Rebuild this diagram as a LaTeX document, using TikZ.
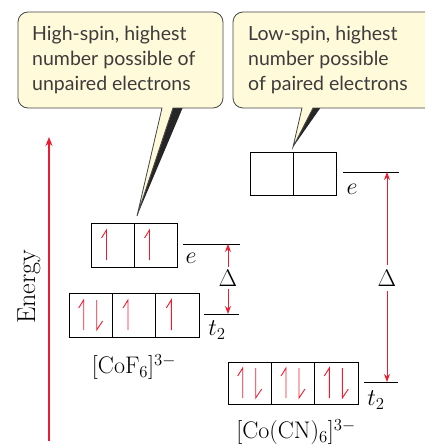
\RequirePackage{fix-cm}
\documentclass[tikz,border=0pt]{standalone}
\usepackage{fontspec}
\usetikzlibrary{arrows.meta}
\newfontfamily\callfont{Lato}
\definecolor{ered}{RGB}{237,28,48}
\definecolor{callfill}{RGB}{255,250,218}
\definecolor{callline}{RGB}{70,70,70}
\definecolor{calltext}{RGB}{60,60,60}
\newcommand{\eup}[2]{\draw[elec] ([shift={(#2,15)}]#1.center) -- ([shift={(#2,-15)}]#1.center) -- ([shift={(#2-5,-7)}]#1.center);}
\newcommand{\edown}[2]{\draw[elec] ([shift={(#2,-15)}]#1.center) -- ([shift={(#2,15)}]#1.center) -- ([shift={(#2+6,6)}]#1.center);}
\begin{document}
\begin{tikzpicture}[x=1pt,y=-1pt,
  orb/.style={draw, line width=0.9pt, minimum width=43.3pt, minimum height=43pt, inner sep=0pt, outer sep=0pt},
  elec/.style={ered, line width=0.9pt},
  level/.style={line width=0.9pt},
  gap/.style={ered, line width=0.9pt, -{Stealth[length=8pt,width=6pt]}},
  calltxt/.style={font=\callfont\fontsize{19.5}{24}\selectfont, text=calltext, anchor=base west, inner sep=0pt},
  serif/.style={font=\fontsize{24}{28}\selectfont, inner sep=0pt},
  callout/.style={fill=callfill, draw=callline, line width=0.8pt}
]
\useasboundingbox (0,0) rectangle (425,446);
\clip (0,0) rectangle (425,446);

% callouts
\fill[black!85] (137,216) -- (171,107) -- (183,107) -- cycle;
\draw[callout] (162,108) [rounded corners=10pt] -- (18,108) -- (18,12) -- (223,12) -- (223,108) [sharp corners] -- (173,108) -- (137,216) -- cycle;
\node[calltxt] (h1) at (32,41) {High-spin, highest};
\node[calltxt] (h2) at (32,66) {number possible of};
\node[calltxt] (h3) at (32,91) {unpaired electrons};

\fill[black!85] (293,147) -- (311,107) -- (321,107) -- cycle;
\draw[callout] (302,108) [rounded corners=10pt] -- (233,108) -- (233,12) -- (445,12) -- (445,108) [sharp corners] -- (313,108) -- (293,147) -- cycle;
\node[calltxt] (l1) at (248,41) {Low-spin, highest};
\node[calltxt] (l2) at (248,66) {number possible};
\node[calltxt] (l3) at (248,91) {of paired electrons};

% energy axis
\coordinate (ebot) at (49,441);
\coordinate (etop) at (49,137);
\draw[ered, line width=1.3pt, -{Stealth[length=9pt,width=7pt]}] (ebot) -- (etop);
\node[serif, font=\fontsize{26}{30}\selectfont, rotate=90] (energy) at (29,287) {Energy};

% high spin [CoF6]3-
\node[orb, minimum width=43pt, minimum height=44pt] (he1) at (112.5,245) {};
\node[orb, minimum width=43pt, minimum height=44pt] (he2) at (155.5,245) {};
\node[orb, minimum height=44pt] (ht1) at (90.7,315) {};
\node[orb, minimum height=44pt] (ht2) at (134,315) {};
\node[orb, minimum height=44pt] (ht3) at (177.3,315) {};
\eup{he1}{-6}
\eup{he2}{-6}
\eup{ht1}{-7}
\edown{ht1}{6}
\eup{ht2}{-6}
\eup{ht3}{-6}
\coordinate (hea) at (183,244);
\coordinate (heb) at (240,244);
\coordinate (hta) at (204,314);
\coordinate (htb) at (239,314);
\draw[level] (hea) -- (heb);
\draw[level] (hta) -- (htb);
\node[serif] (hel) at (191,258) {$e$};
\node[serif] (htl) at (217,330) {$t_2$};
\node[serif] (hd) at (228,278) {$\Delta$};
\coordinate (hdu) at (228,244);
\coordinate (hdd) at (228,314);
\draw[gap] (hd.north) ++(0,-3) -- (hdu);
\draw[gap] (hd.south) ++(0,3) -- (hdd);
\node[serif] (hlab) at (134,367) {[CoF$_6$]$^{3-}$};

% low spin [Co(CN)6]3-
\node[orb, minimum width=43pt, minimum height=43pt] (le1) at (271.5,173.5) {};
\node[orb, minimum width=43pt, minimum height=43pt] (le2) at (314.5,173.5) {};
\node[orb, minimum height=42pt] (lt1) at (249.7,383) {};
\node[orb, minimum height=42pt] (lt2) at (293,383) {};
\node[orb, minimum height=42pt] (lt3) at (336.3,383) {};
\eup{lt1}{-7}
\edown{lt1}{6}
\eup{lt2}{-7}
\edown{lt2}{6}
\eup{lt3}{-7}
\edown{lt3}{6}
\coordinate (lea) at (343,172);
\coordinate (leb) at (399,172);
\coordinate (lta) at (364,382);
\coordinate (ltb) at (398,382);
\draw[level] (lea) -- (leb);
\draw[level] (lta) -- (ltb);
\node[serif] (lel) at (352,189) {$e$};
\node[serif] (ltl) at (376,400) {$t_2$};
\node[serif] (ld) at (387,278) {$\Delta$};
\coordinate (ldu) at (387,172);
\coordinate (ldd) at (387,382);
\draw[gap] (ld.north) ++(0,-5) -- (ldu);
\draw[gap] (ld.south) ++(0,5) -- (ldd);
\node[serif] (llab) at (296,432) {[Co(CN)$_6$]$^{3-}$};
\end{tikzpicture}
\end{document}
